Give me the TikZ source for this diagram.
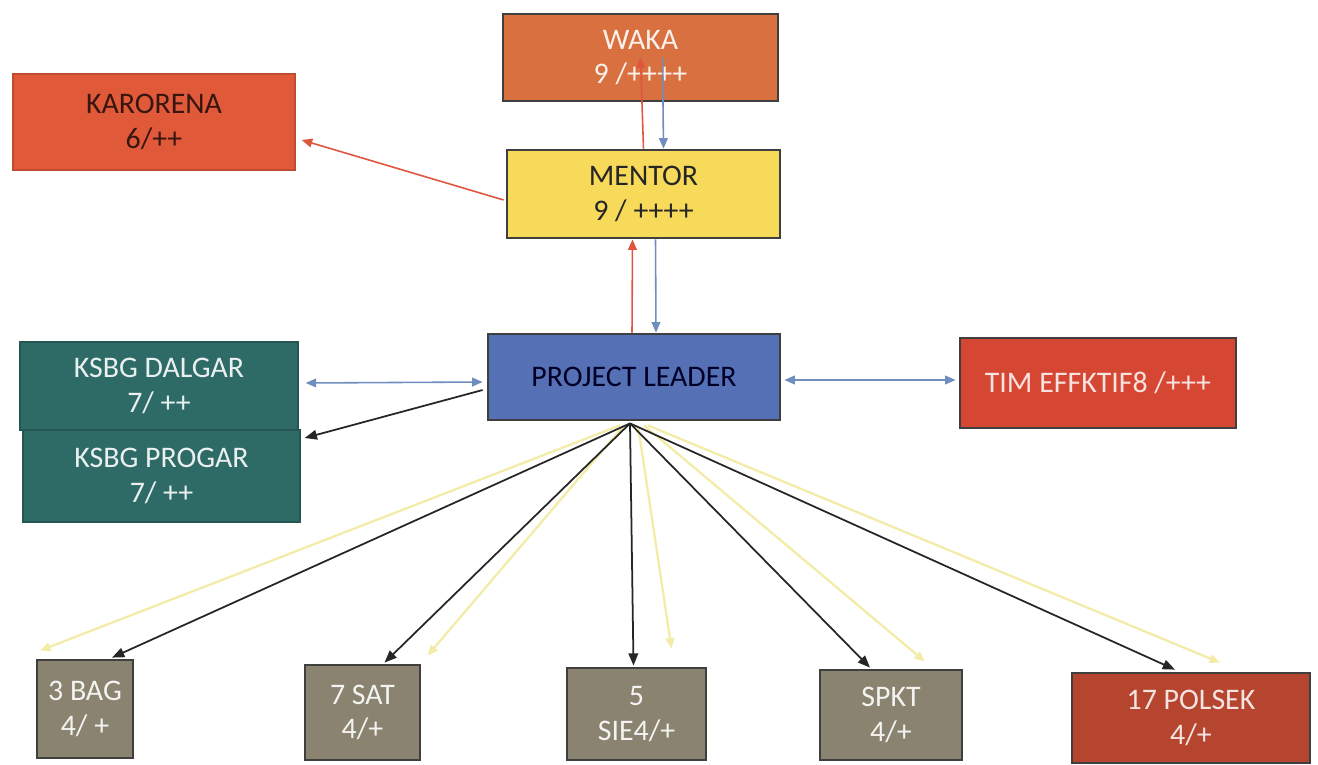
\documentclass[tikz,border=0pt]{standalone}
\usepackage{fontspec}
\setmainfont{Carlito}
\usetikzlibrary{calc,arrows.meta}
\definecolor{boxline}{HTML}{3F3F3F}
\definecolor{wakafill}{HTML}{D8703F}
\definecolor{karofill}{HTML}{E05A3A}
\definecolor{mentorfill}{HTML}{F8DA5A}
\definecolor{leaderfill}{HTML}{5670B5}
\definecolor{ksbgfill}{HTML}{2E6B66}
\definecolor{timfill}{HTML}{D54633}
\definecolor{unitfill}{HTML}{8A8370}
\definecolor{polsekfill}{HTML}{B5452E}
\definecolor{arrowred}{HTML}{E0553F}
\definecolor{arrowblue}{HTML}{6F8DBD}
\definecolor{arrowyellow}{HTML}{F3ECA8}

\begin{document}
\begin{tikzpicture}[x=0.02cm, y=-0.02cm,
    box/.style={draw=boxline, line width=1.6pt, align=center, inner sep=2pt,
      font=\fontsize{17}{19.5}\selectfont},
    redline/.style={-{Triangle[length=6pt,width=5pt]}, draw=arrowred, line width=0.9pt},
    blueline/.style={-{Triangle[length=6pt,width=5pt]}, draw=arrowblue, line width=0.9pt},
    bluetwo/.style={{Triangle[length=6pt,width=5pt]}-{Triangle[length=6pt,width=5pt]}, draw=arrowblue, line width=0.9pt},
    blackline/.style={-{Triangle[length=7pt,width=5.5pt]}, draw=black!85, line width=1pt},
    yellowline/.style={-{Triangle[length=6pt,width=5pt]}, draw=arrowyellow, line width=1.3pt}]
    %%%%% START %%%%%

    \useasboundingbox (0,0) rectangle (1318,764);

    % top
    \node[box, fill=wakafill, text=white!90!wakafill, minimum width=5.5cm, minimum height=1.74cm]
      (waka) at (640.5,57.5) {WAKA\\9 /++++};
    \node[box, draw=karofill!85!black, line width=0.8pt, fill=karofill, text=black!75!karofill,
      minimum width=5.64cm, minimum height=1.92cm] (karorena) at (154,122) {KARORENA\\6/++};
    \node[box, fill=mentorfill, text=black!85, minimum width=5.46cm, minimum height=1.76cm]
      (mentor) at (643.5,194) {MENTOR\\9 / ++++};

    % middle
    \node[box, fill=leaderfill, text=black!85!blue, minimum width=5.84cm, minimum height=1.72cm]
      (leader) at (634,377) {PROJECT LEADER};
    \node[box, draw=ksbgfill!80!black, line width=0.8pt, fill=ksbgfill, text=white!90!ksbgfill,
      minimum width=5.56cm, minimum height=1.76cm] (dalgar) at (159,386) {KSBG DALGAR\\7/ ++};
    \node[box, draw=ksbgfill!80!black, line width=0.8pt, fill=ksbgfill, text=white!90!ksbgfill,
      minimum width=5.54cm, minimum height=1.84cm] (progar) at (161.5,476) {KSBG PROGAR\\7/ ++};
    \node[box, fill=timfill, text=white!85!timfill, minimum width=5.52cm, minimum height=1.8cm]
      (tim) at (1098,383) {TIM EFFKTIF8 /+++};

    % bottom
    \node[box, fill=unitfill, text=white!90!unitfill, minimum width=1.92cm, minimum height=1.96cm]
      (bag) at (85,709) {3 BAG\\4/ +};
    \node[box, fill=unitfill, text=white!90!unitfill, minimum width=2.3cm, minimum height=1.9cm]
      (sat) at (362.5,712.5) {7 SAT\\4/+};
    \node[box, fill=unitfill, text=white!90!unitfill, minimum width=2.78cm, minimum height=1.84cm]
      (sie) at (636.5,714) {5\\SIE4/+};
    \node[box, fill=unitfill, text=white!90!unitfill, minimum width=2.84cm, minimum height=1.8cm]
      (spkt) at (891,715) {SPKT\\4/+};
    \node[box, fill=polsekfill, text=white!85!polsekfill, minimum width=4.76cm, minimum height=1.8cm]
      (polsek) at (1191,718) {17 POLSEK\\4/+};

    % waka - mentor - leader
    \draw[redline] (mentor.north) -- (waka.center);
    \draw[blueline] ($(waka.center)+(22,0)$) -- ($(mentor.north)+(20,0)$);
    \draw[redline] ($(leader.north)+(-2,0)$) -- ($(mentor.south)+(-11,0)$);
    \draw[blueline] ($(mentor.south)+(12,0)$) -- ($(leader.north)+(22,0)$);
    \draw[redline] ($(mentor.west)+(-2,6)$) -- ($(karorena.east)+(6,18)$);

    % sides
    \draw[bluetwo] ($(dalgar.east)+(7,-3)$) -- ($(leader.west)+(-4,5)$);
    \draw[blackline] ($(leader.west)+(-4,13)$) -- ($(progar.east)+(4,-38)$);
    \draw[bluetwo] ($(leader.east)+(3,3)$) -- ($(tim.west)+(-3,-3)$);

    % fan to units
    \coordinate (fan) at ($(leader.south)+(-4,2)$);
    \draw[yellowline] ($(leader.south)+(-14,4)$) -- ($(bag.north)+(-45,-8)$);
    \draw[yellowline] ($(leader.south)+(-10,4)$) -- ($(sat.north)+(65,-8)$);
    \draw[yellowline] ($(leader.south)+(4,4)$) -- ($(sie.north)+(35,-18)$);
    \draw[yellowline] ($(leader.south)+(10,4)$) -- ($(spkt.north)+(34,-7)$);
    \draw[yellowline] ($(leader.south)+(14,4)$) -- ($(polsek.north)+(29,-9)$);

    \draw[blackline] (fan) -- ($(bag.north)+(27,-1)$);
    \draw[blackline] (fan) -- ($(sat.north)+(22,-1)$);
    \draw[blackline] (fan) -- ($(sie.north)+(-3,-1)$);
    \draw[blackline] (fan) -- ($(spkt.north)+(-21,-1)$);
    \draw[blackline] (fan) -- ($(polsek.north)+(-16,-2)$);

    %%%%% END %%%%%
\end{tikzpicture}
\end{document}
